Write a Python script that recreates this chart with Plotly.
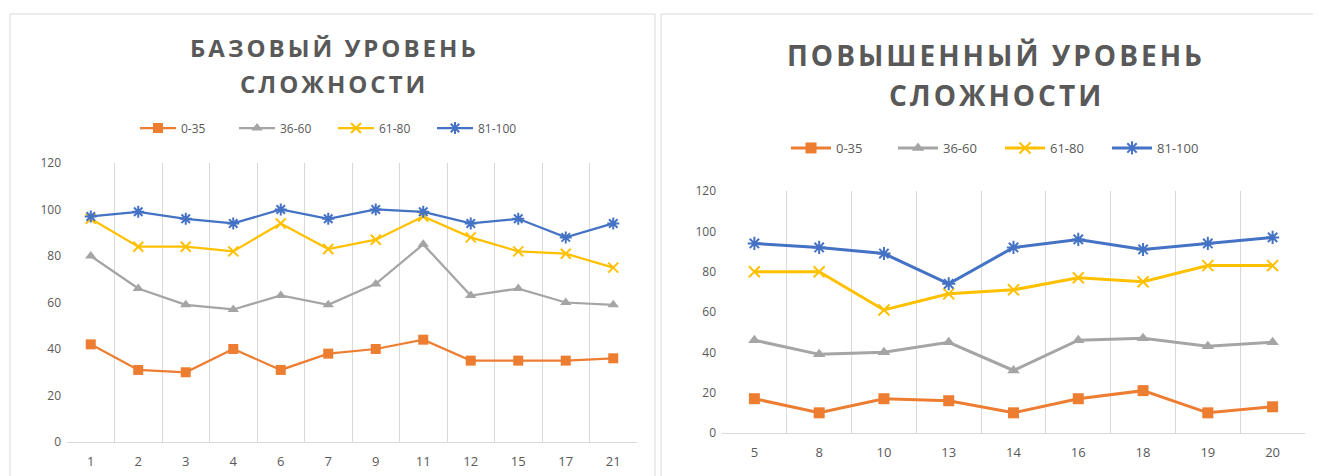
import plotly.graph_objects as go

# ---- data ----
series_names = ["0-35", "36-60", "61-80", "81-100"]

left_categories = ["1", "2", "3", "4", "6", "7", "9", "11", "12", "15", "17", "21"]
left_0_35 = [42, 31, 30, 40, 31, 38, 40, 44, 35, 35, 35, 36]
left_36_60 = [80, 66, 59, 57, 63, 59, 68, 85, 63, 66, 60, 59]
left_61_80 = [96, 84, 84, 82, 94, 83, 87, 97, 88, 82, 81, 75]
left_81_100 = [97, 99, 96, 94, 100, 96, 100, 99, 94, 96, 88, 94]

right_categories = ["5", "8", "10", "13", "14", "16", "18", "19", "20"]
right_0_35 = [17, 10, 17, 16, 10, 17, 21, 10, 13]
right_36_60 = [46, 39, 40, 45, 31, 46, 47, 43, 45]
right_61_80 = [80, 80, 61, 69, 71, 77, 75, 83, 83]
right_81_100 = [94, 92, 89, 74, 92, 96, 91, 94, 97]

left_title_lines = ["БАЗОВЫЙ УРОВЕНЬ", "СЛОЖНОСТИ"]
right_title_lines = ["ПОВЫШЕННЫЙ УРОВЕНЬ", "СЛОЖНОСТИ"]

y_ticks = [0, 20, 40, 60, 80, 100, 120]

# ---- styles ----
colors = ["#ED7D31", "#A5A5A5", "#FFC000", "#4472C4"]
symbols = ["square", "triangle-up", "x-thin-open", "asterisk-open"]
font_family = "Open Sans, Liberation Sans, sans-serif"
text_color = "#595959"

fig = go.Figure()

left_data = [left_0_35, left_36_60, left_61_80, left_81_100]
right_data = [right_0_35, right_36_60, right_61_80, right_81_100]

for i, (name, vals) in enumerate(zip(series_names, left_data)):
    sym = symbols[i]
    open_sym = sym.endswith("open")
    fig.add_trace(go.Scatter(
        x=left_categories, y=vals, name=name, mode="lines+markers",
        xaxis="x", yaxis="y", legend="legend",
        line=dict(color=colors[i], width=2.25),
        marker=dict(symbol=sym, size=10, color=colors[i],
                    line=dict(color=colors[i], width=2 if open_sym else 0)),
    ))

for i, (name, vals) in enumerate(zip(series_names, right_data)):
    sym = symbols[i]
    open_sym = sym.endswith("open")
    fig.add_trace(go.Scatter(
        x=right_categories, y=vals, name=name, mode="lines+markers",
        xaxis="x2", yaxis="y2", legend="legend2",
        line=dict(color=colors[i], width=3),
        marker=dict(symbol=sym, size=11, color=colors[i],
                    line=dict(color=colors[i], width=2 if open_sym else 0)),
    ))

W, H = 1321, 476
OFF = 8  # page body margin

def px_x(p):
    return (p - OFF) / W

def px_y(p):
    return 1 - (p - OFF) / H

xaxis_common = dict(
    type="category", tickson="boundaries", showgrid=True, gridcolor="#D9D9D9",
    gridwidth=1, showline=True, linecolor="#D9D9D9", ticks="", zeroline=False,
    automargin=False, ticklabelstandoff=7,
    tickfont=dict(family=font_family, size=13, color=text_color),
)
yaxis_common = dict(
    range=[0, 120], tickvals=y_ticks, showgrid=False, zeroline=False, showline=False,
    ticks="", automargin=False, ticklabelstandoff=5,
    tickfont=dict(family=font_family, size=12, color=text_color),
)

fig.update_layout(
    width=W, height=H,
    margin=dict(l=0, r=0, t=0, b=0, autoexpand=False),
    paper_bgcolor="white", plot_bgcolor="white",
    xaxis=dict(domain=[px_x(67), px_x(637)], anchor="y",
               range=[-0.5, len(left_categories) - 0.5], **xaxis_common),
    yaxis=dict(domain=[px_y(442), px_y(163)], anchor="x", **yaxis_common),
    xaxis2=dict(domain=[px_x(722), px_x(1305)], anchor="y2",
                range=[-0.5, len(right_categories) - 0.5], **xaxis_common),
    yaxis2=dict(domain=[px_y(433), px_y(191)], anchor="x2", **yaxis_common),
    legend=dict(orientation="h", x=px_x(333), y=px_y(128), xanchor="center", yanchor="middle",
                font=dict(family=font_family, size=12, color=text_color),
                itemwidth=36, entrywidth=48, bgcolor="rgba(0,0,0,0)"),
    legend2=dict(orientation="h", x=px_x(1000), y=px_y(148), xanchor="center", yanchor="middle",
                 font=dict(family=font_family, size=13, color=text_color),
                 itemwidth=40, entrywidth=52, bgcolor="rgba(0,0,0,0)"),
    showlegend=True,
)

def title_text(s, ls):
    return '<b><span style="letter-spacing:%spx">%s</span></b>' % (ls, s)

for line, yy in zip(left_title_lines, [47, 83]):
    fig.add_annotation(text=title_text(line, 3), xref="paper", yref="paper",
                       x=px_x(334), y=px_y(yy), xanchor="center", yanchor="middle",
                       showarrow=False, align="center",
                       font=dict(family=font_family, size=24, color=text_color))
for line, yy in zip(right_title_lines, [55, 95]):
    fig.add_annotation(text=title_text(line, 3), xref="paper", yref="paper",
                       x=px_x(996), y=px_y(yy), xanchor="center", yanchor="middle",
                       showarrow=False, align="center",
                       font=dict(family=font_family, size=28, color=text_color))

# panel borders
fig.add_shape(type="rect", xref="paper", yref="paper",
              x0=px_x(10), x1=px_x(655), y0=px_y(490), y1=px_y(14),
              line=dict(color="#D9D9D9", width=1), layer="below")
fig.add_shape(type="rect", xref="paper", yref="paper",
              x0=px_x(661), x1=px_x(1316), y0=px_y(490), y1=px_y(14),
              line=dict(color="#D9D9D9", width=1), layer="below")

fig.write_html("out.html")
